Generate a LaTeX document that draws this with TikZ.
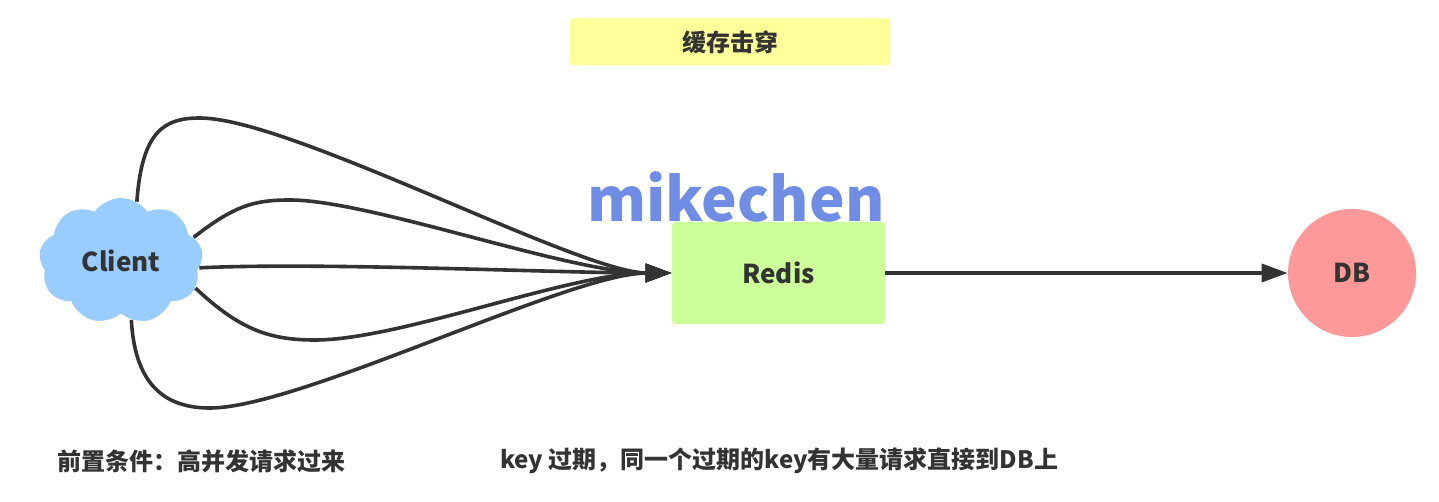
\documentclass[tikz,border=0pt]{standalone}
\usepackage{fontspec}
\setmainfont{Noto Sans CJK SC}
\usetikzlibrary{arrows.meta,shapes.symbols}
\definecolor{ink}{HTML}{333333}
\definecolor{lemon}{HTML}{FFFF99}
\definecolor{lime}{HTML}{CCFF99}
\definecolor{salmon}{HTML}{FF9999}
\definecolor{sky}{HTML}{99CCFF}
\definecolor{mark}{HTML}{6F8DE5}
\tikzset{
        every node/.style={text=ink, font=\bfseries\fontsize{13pt}{15pt}\selectfont},
        titlebox/.style={fill=lemon, rounded corners=1.5pt, minimum width=160pt, minimum height=23.5pt, inner sep=0pt, font=\bfseries\fontsize{12pt}{14pt}\selectfont},
        cache/.style={fill=lime, rounded corners=1.5pt, minimum width=106.5pt, minimum height=51pt, inner sep=0pt},
        store/.style={fill=salmon, circle, minimum size=64pt, inner sep=0pt},
        client/.style={fill=sky, cloud, cloud puffs=9, cloud puff arc=110, aspect=1.3, minimum width=82pt, minimum height=63pt, inner sep=0pt},
        note/.style={anchor=west, inner sep=0pt, font=\bfseries\fontsize{12pt}{14pt}\selectfont},
        link/.style={draw=ink, line width=1.8pt, -{Triangle[length=13pt,width=9pt]}}
          }
\begin{document}
\begin{tikzpicture}[x=0.5pt,y=-0.5pt]
            \useasboundingbox (0,0) rectangle (1439,502);
            % nodes
            \node[titlebox] (title) at (730,42) {缓存击穿};
            \node[client] (c) at (121,261) {Client};
            \node[cache] (redis) at (778.5,273) {Redis};
            \node[store] (db) at (1352,273) {DB};
            \node[anchor=base, text=mark, inner sep=0pt, font=\bfseries\fontsize{30pt}{34pt}\selectfont] (mk) at (736,221) {mikechen};
            \node[note] (pre) at (57,461) {前置条件：高并发请求过来};
            \node[note] (why) at (500,461) {key 过期，同一个过期的key有大量请求直接到DB上};
            % requests
            \draw[link] (c.75) .. controls (142,130) and (165,118) .. (200,118) .. controls (290,118) and (580,273) .. (redis.west);
            \draw[link] (c.18) .. controls (235,205) and (255,200) .. (290,200) .. controls (370,200) and (570,273) .. (redis.west);
            \draw[link] (c.-5) .. controls (320,262) and (560,273) .. (redis.west);
            \draw[link] (c.-20) .. controls (240,330) and (270,340) .. (315,340) .. controls (400,340) and (570,273) .. (redis.west);
            \draw[link] (c.-80) .. controls (135,390) and (170,408) .. (210,408) .. controls (300,408) and (570,273) .. (redis.west);
            \draw[link] (redis.east) -- (db.west);
          \end{tikzpicture}
\end{document}
